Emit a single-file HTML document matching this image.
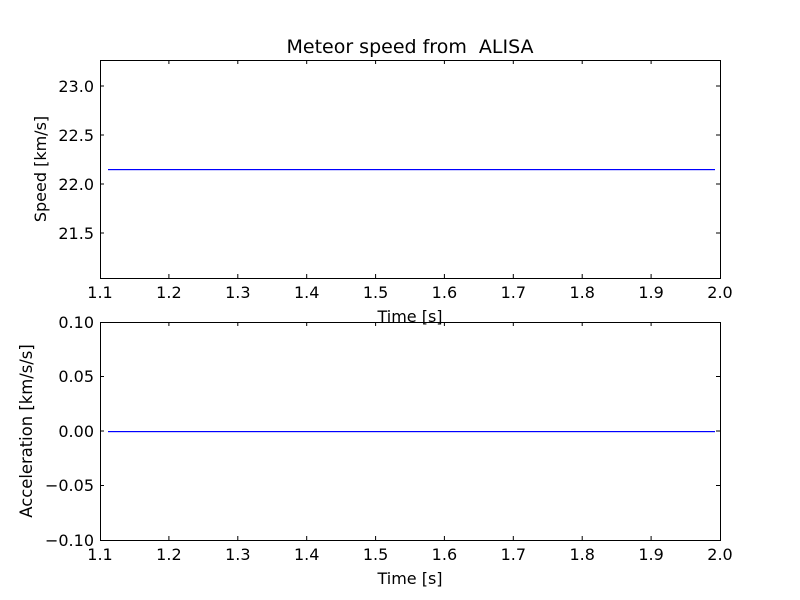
<!DOCTYPE html>
<html><head><style>body{margin:0;background:#fff}svg{display:block}text{font-family:"DejaVu Sans","Liberation Sans",sans-serif;font-size:16px;fill:#000}</style></head><body>
<svg width="800" height="600" xmlns="http://www.w3.org/2000/svg">
<rect width="800" height="600" fill="#fff"/>
<text x="410" y="53" text-anchor="middle" style="font-size:19px;white-space:pre">Meteor speed from&#160; ALISA</text>
<g stroke="#000" stroke-width="1">
<rect x="100.5" y="60.5" width="620" height="218" fill="none"/>
<path d="M100,86h4M720,86h-4M100,135h4M720,135h-4M100,184h4M720,184h-4M100,233h4M720,233h-4"/>
<path d="M168.9,278v-4M168.9,60v4M237.8,278v-4M237.8,60v4M306.7,278v-4M306.7,60v4M375.6,278v-4M375.6,60v4M444.4,278v-4M444.4,60v4M513.3,278v-4M513.3,60v4M582.2,278v-4M582.2,60v4M651.1,278v-4M651.1,60v4"/>
<rect x="100.5" y="322.5" width="620" height="218" fill="none"/>
<path d="M100,376.5h4M720,376.5h-4M100,431h4M720,431h-4M100,485.5h4M720,485.5h-4"/>
<path d="M168.9,540v-4M168.9,322v4M237.8,540v-4M237.8,322v4M306.7,540v-4M306.7,322v4M375.6,540v-4M375.6,322v4M444.4,540v-4M444.4,322v4M513.3,540v-4M513.3,322v4M582.2,540v-4M582.2,322v4M651.1,540v-4M651.1,322v4"/>
</g>
<rect x="108" y="169" width="607" height="1.2" style="fill:#0000ff"/>
<rect x="108" y="431" width="607" height="1.2" style="fill:#0000ff"/>
<g text-anchor="end">
<text x="94" y="92">23.0</text><text x="94" y="141">22.5</text><text x="94" y="190">22.0</text><text x="94" y="239">21.5</text>
<text x="94" y="328">0.10</text><text x="94" y="382">0.05</text><text x="94" y="437">0.00</text><text x="94" y="491">−0.05</text><text x="94" y="546">−0.10</text>
</g>
<g text-anchor="middle">
<text x="100" y="298">1.1</text><text x="168.9" y="298">1.2</text><text x="237.8" y="298">1.3</text><text x="306.7" y="298">1.4</text><text x="375.6" y="298">1.5</text><text x="444.4" y="298">1.6</text><text x="513.3" y="298">1.7</text><text x="582.2" y="298">1.8</text><text x="651.1" y="298">1.9</text><text x="720" y="298">2.0</text>
<text x="100" y="560">1.1</text><text x="168.9" y="560">1.2</text><text x="237.8" y="560">1.3</text><text x="306.7" y="560">1.4</text><text x="375.6" y="560">1.5</text><text x="444.4" y="560">1.6</text><text x="513.3" y="560">1.7</text><text x="582.2" y="560">1.8</text><text x="651.1" y="560">1.9</text><text x="720" y="560">2.0</text>
<text x="410" y="322">Time [s]</text>
<text x="410" y="584">Time [s]</text>
<text transform="translate(46,169) rotate(-90)">Speed [km/s]</text>
<text transform="translate(32,431) rotate(-90)" style="font-size:16.4px">Acceleration [km/s/s]</text>
</g>
</svg>
</body></html>
